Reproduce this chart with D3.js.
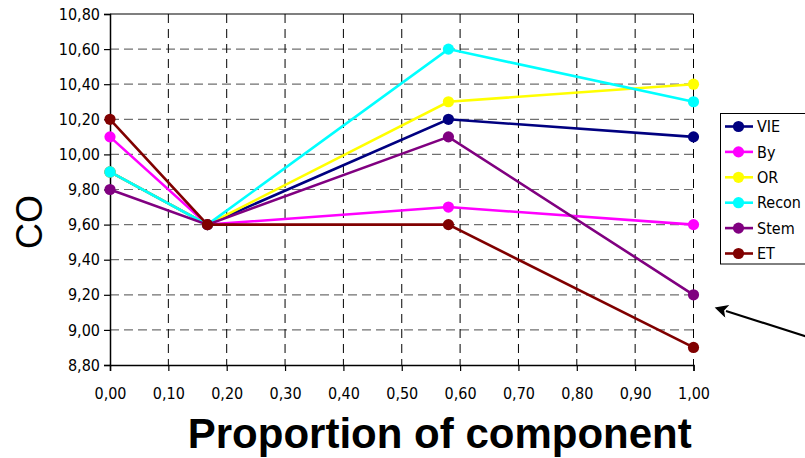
<!DOCTYPE html>
<html>
<head>
<meta charset="utf-8">
<script src="https://cdn.jsdelivr.net/npm/d3@7"></script>
<style>
  html, body { margin: 0; padding: 0; background: #fff; }
  svg { display: block; }
</style>
</head>
<body>
<svg id="chart" width="805" height="458"></svg>
<script>
// Proportion of component at each measurement
const proportions = [0.0, 0.167, 0.58, 1.0];

// CO values per series
const seriesNames = ["VIE", "By", "OR", "Recon", "Stem", "ET"];
const vieValues   = [9.9, 9.6, 10.2, 10.1];
const byValues    = [10.1, 9.6, 9.7, 9.6];
const orValues    = [9.9, 9.6, 10.3, 10.4];
const reconValues = [9.9, 9.6, 10.6, 10.3];
const stemValues  = [9.8, 9.6, 10.1, 9.2];
const etValues    = [10.2, 9.6, 9.6, 8.9];
const seriesColors = ["#000080", "#ff00ff", "#ffff00", "#00ffff", "#800080", "#800000"];

// Axis tick values
const xTicks = [0, 0.1, 0.2, 0.3, 0.4, 0.5, 0.6, 0.7, 0.8, 0.9, 1.0];
const yTicks = [8.8, 9.0, 9.2, 9.4, 9.6, 9.8, 10.0, 10.2, 10.4, 10.6, 10.8];

const allValues = [vieValues, byValues, orValues, reconValues, stemValues, etValues];
const series = seriesNames.map((name, i) => ({
  name,
  color: seriesColors[i],
  points: proportions.map((p, j) => ({ x: p, y: allValues[i][j] }))
}));

const svg = d3.select("#chart");
const plot = { left: 110, right: 693.5, top: 14, bottom: 365 };
const tickFont = "'DejaVu Sans Condensed', 'DejaVu Sans', sans-serif";
const fmt = v => d3.format(".2f")(v).replace(".", ",");

const x = d3.scaleLinear().domain([0, 1]).range([plot.left, plot.right]);
const y = d3.scaleLinear().domain([8.8, 10.8]).range([plot.bottom, plot.top]);

// Horizontal gridlines
svg.append("g").selectAll("line")
  .data(yTicks.filter(v => v > 8.8 && v < 10.8))
  .join("line")
  .attr("x1", plot.left).attr("x2", plot.right)
  .attr("y1", d => y(d)).attr("y2", d => y(d))
  .attr("stroke", "#707070").attr("stroke-width", 1.2)
  .attr("stroke-dasharray", "9,5");

// Vertical gridlines
svg.append("g").selectAll("line")
  .data(xTicks.filter(v => v > 0))
  .join("line")
  .attr("x1", d => x(d)).attr("x2", d => x(d))
  .attr("y1", plot.top).attr("y2", plot.bottom)
  .attr("stroke", "#000").attr("stroke-width", 1)
  .attr("stroke-dasharray", "9,6");

// Top border
svg.append("line")
  .attr("x1", plot.left).attr("x2", plot.right)
  .attr("y1", plot.top).attr("y2", plot.top)
  .attr("stroke", "#000").attr("stroke-width", 1.2);

// Axes
const yAxis = d3.axisLeft(y).tickValues(yTicks).tickFormat(fmt).tickSize(6).tickPadding(4);
const xAxis = d3.axisBottom(x).tickValues(xTicks).tickFormat(fmt).tickSize(6).tickPadding(17);

const gy = svg.append("g").attr("transform", `translate(${plot.left},0)`).call(yAxis);
const gx = svg.append("g").attr("transform", `translate(0,${plot.bottom})`).call(xAxis);
[gx, gy].forEach(g => {
  g.select(".domain").attr("stroke", "#000").attr("stroke-width", 1.5);
  g.selectAll(".tick line").attr("stroke", "#000").attr("stroke-width", 1.2);
  g.selectAll(".tick text")
    .attr("fill", "#000")
    .style("font-family", tickFont)
    .style("font-size", "16px");
});

// Series lines and markers
const line = d3.line().x(d => x(d.x)).y(d => y(d.y));
const sg = svg.append("g").selectAll("g").data(series).join("g");
sg.append("path")
  .attr("d", d => line(d.points))
  .attr("fill", "none")
  .attr("stroke", d => d.color)
  .attr("stroke-width", 2.6);
sg.selectAll("circle")
  .data(d => d.points.map(p => ({ ...p, color: d.color })))
  .join("circle")
  .attr("cx", d => x(d.x)).attr("cy", d => y(d.y))
  .attr("r", 5.6)
  .attr("fill", d => d.color);

// Axis titles
svg.append("text")
  .attr("transform", "translate(42,222) rotate(-90)")
  .attr("text-anchor", "middle")
  .style("font-family", "Arial, 'Liberation Sans', sans-serif")
  .style("font-size", "36px")
  .text("CO");

svg.append("text")
  .attr("x", (plot.left + plot.right) / 2 + 38)
  .attr("y", 448)
  .attr("text-anchor", "middle")
  .style("font-family", "Arial, 'Liberation Sans', sans-serif")
  .style("font-weight", "bold")
  .style("font-size", "42px")
  .text("Proportion of component");

// Legend
const legend = svg.append("g");
legend.append("rect")
  .attr("x", 720.5).attr("y", 113.5)
  .attr("width", 100).attr("height", 150.5)
  .attr("fill", "#fff").attr("stroke", "#000").attr("stroke-width", 1);
const items = legend.selectAll("g.item").data(series).join("g")
  .attr("class", "item")
  .attr("transform", (d, i) => `translate(0,${126.5 + i * 25.4})`);
items.append("line")
  .attr("x1", 725).attr("x2", 753)
  .attr("stroke", d => d.color).attr("stroke-width", 2.6);
items.append("circle")
  .attr("cx", 738.5).attr("r", 5.6)
  .attr("fill", d => d.color);
items.append("text")
  .attr("x", 757).attr("dy", "0.36em")
  .style("font-family", tickFont)
  .style("font-size", "16px")
  .text(d => d.name);

// Pointer arrow
svg.append("defs").append("marker")
  .attr("id", "arrowhead")
  .attr("viewBox", "0 0 10 10")
  .attr("refX", 1).attr("refY", 5)
  .attr("markerWidth", 7).attr("markerHeight", 6)
  .attr("markerUnits", "strokeWidth")
  .attr("orient", "auto-start-reverse")
  .append("path").attr("d", "M0,0 L10,5 L0,10 L2.5,5 z").attr("fill", "#000");
svg.append("line")
  .attr("x1", 808).attr("y1", 337)
  .attr("x2", 726).attr("y2", 311)
  .attr("stroke", "#000").attr("stroke-width", 2.2)
  .attr("marker-end", "url(#arrowhead)");
</script>
</body>
</html>
